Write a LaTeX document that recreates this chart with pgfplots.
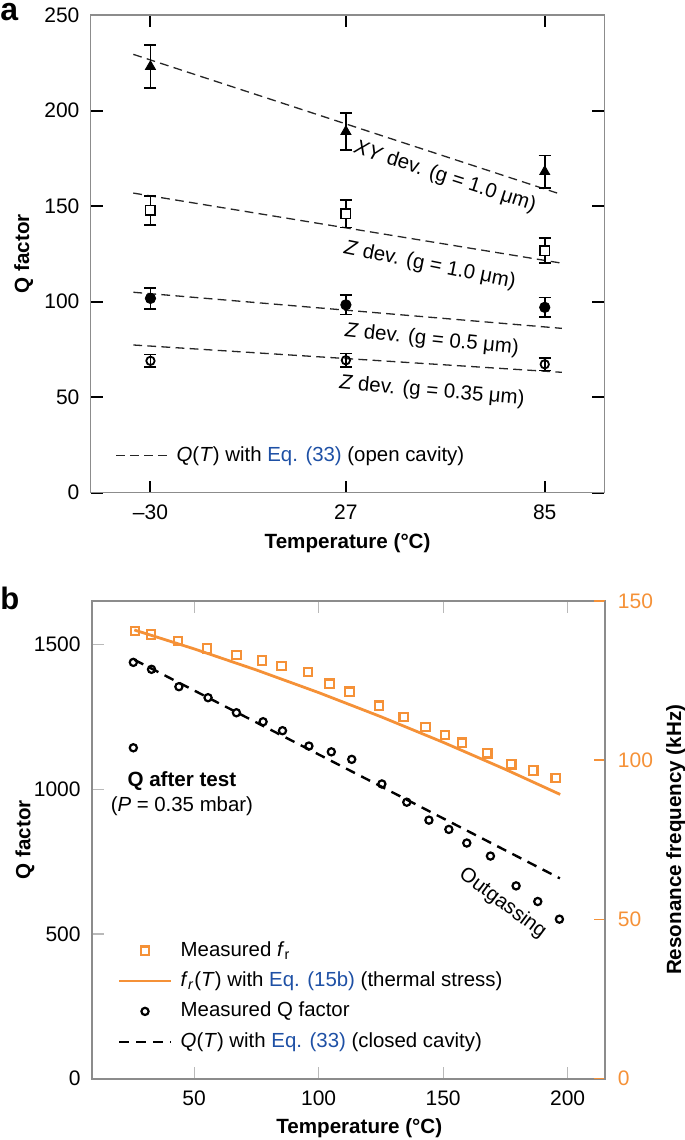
\documentclass[border=0pt]{standalone}
\usepackage{fontspec}
\setmainfont{Liberation Sans}
\usepackage{pgfplots}
\pgfplotsset{compat=1.18}
\definecolor{myorange}{RGB}{245,145,55}
\definecolor{eqblue}{RGB}{30,80,165}
\definecolor{framegray}{RGB}{140,140,140}
\definecolor{tickgray}{RGB}{185,185,185}
\begin{document}
\begin{tikzpicture}
\useasboundingbox (0,0) rectangle (342.5pt,570pt);
\pgfplotsset{
  legend image code/.code={\draw[mark repeat=2,mark phase=2,#1] plot coordinates {(0pt,0pt) (12.8pt,0pt) (25.6pt,0pt)};},
  /pgf/number format/1000 sep={},
}
\node[anchor=base west, font=\fontsize{16}{18}\selectfont\bfseries, inner sep=0pt] at (0pt,559.5pt) {a};
\node[anchor=base west, font=\fontsize{15.5}{18}\selectfont\bfseries, inner sep=0pt] at (0pt,265pt) {b};

% ---------------- panel a ----------------
\begin{axis}[
 at={(45.4pt,323.65pt)}, anchor=south west,
 scale only axis, width=256.8pt, height=238.85pt,
 xmin=-47.4, xmax=102.4, ymin=0, ymax=250,
 xtick={-30,27,85}, xticklabels={--30,27,85},
 ytick={0,50,100,150,200,250},
 tick align=inside, xtick pos=both, ytick pos=both,
 major tick length=6pt,
 every tick/.style={black, line width=1pt},
 axis line style={framegray, line width=0.6pt},
 tick label style={font=\fontsize{10.5}{12}\selectfont},
 /pgf/number format/assume math mode=true,
 xticklabel style={anchor=center, inner sep=0pt, yshift=-9.7pt},
 yticklabel style={anchor=east, inner sep=0pt, xshift=-5.5pt},
 xlabel={Temperature (°C)}, ylabel={Q factor},
 every axis x label/.style={at={(axis description cs:0.5,-0.1055)}, anchor=center, font=\fontsize{10.3}{12}\selectfont\bfseries},
 every axis y label/.style={at={(axis description cs:-0.1305,0.5)}, anchor=center, rotate=90, font=\fontsize{10.3}{12}\selectfont\bfseries},
 legend style={draw=none, fill=none, at={(axis description cs:0.0479,0.0775)}, anchor=west, inner sep=0pt, outer sep=0pt,
   nodes={inner sep=0pt, text height=7.5pt, text depth=2pt}, column sep=4.35pt, font=\fontsize{10.2}{12}\selectfont},
 legend cell align=left,
]
\addplot[black!85, line width=0.65pt, dash pattern=on 4.4pt off 2.65pt] coordinates {(-35,229.4) (90,156)};
\addlegendentry{\textit{Q}(\textit{T}) with \textcolor{eqblue}{Eq. (33)} (open cavity)}
\addplot[forget plot, black!85, line width=0.65pt, dash pattern=on 4.4pt off 2.65pt] coordinates {(-35,156.8) (90,120.1)};
\addplot[forget plot, black!85, line width=0.65pt, dash pattern=on 4.4pt off 2.65pt] coordinates {(-35,104.9) (90,86)};
\addplot[forget plot, black!85, line width=0.65pt, dash pattern=on 4.4pt off 2.65pt] coordinates {(-35,77.3) (90,63)};

\addplot[forget plot, only marks, black, mark=triangle*, mark size=2.9pt,
  error bars/.cd, y dir=both, y explicit, error bar style={line width=0.9pt},
  error mark options={rotate=90, mark size=3pt, line width=0.9pt, black}]
  coordinates {(-30,223) +- (0,11.3) (27,189) +- (0,9.5) (85,168) +- (0,8.5)};
\addplot[forget plot, only marks, black, mark=square*, mark size=2.4pt, mark options={fill=white, line width=0.8pt},
  error bars/.cd, y dir=both, y explicit, error bar style={line width=0.9pt},
  error mark options={rotate=90, mark size=3pt, line width=0.9pt, black}]
  coordinates {(-30,147.7) +- (0,7.5) (27,146) +- (0,7.2) (85,126.7) +- (0,6.5)};
\addplot[forget plot, only marks, black, mark=*, mark size=2.6pt,
  error bars/.cd, y dir=both, y explicit, error bar style={line width=0.9pt},
  error mark options={rotate=90, mark size=3pt, line width=0.9pt, black}]
  coordinates {(-30,101.7) +- (0,5.5) (27,98.3) +- (0,5) (85,97) +- (0,5.2)};
\addplot[forget plot, only marks, black, mark=o, mark size=2.1pt, mark options={line width=0.9pt},
  error bars/.cd, y dir=both, y explicit, error bar style={line width=0.9pt},
  error mark options={rotate=90, mark size=3pt, line width=0.9pt, black}]
  coordinates {(-30,69) +- (0,3.3) (27,69.3) +- (0,3.5) (85,67.2) +- (0,3.3)};

\node[rotate=-17.9, font=\fontsize{10.2}{12}\selectfont] at (axis cs:55.9,165.2) {\textit{XY} dev. (g = 1.0 μm)};
\node[rotate=-11.3, font=\fontsize{10.2}{12}\selectfont] at (axis cs:51.5,118.9) {\textit{Z} dev. (g = 1.0 μm)};
\node[rotate=-5.9, font=\fontsize{10.2}{12}\selectfont] at (axis cs:52.1,79.9) {\textit{Z} dev. (g = 0.5 μm)};
\node[rotate=-5.1, font=\fontsize{10.2}{12}\selectfont] at (axis cs:52.1,52.9) {\textit{Z} dev. (g = 0.35 μm)};
\end{axis}

% ---------------- panel b, left axis ----------------
\begin{axis}[
 at={(46pt,30.65pt)}, anchor=south west,
 scale only axis, width=256.5pt, height=238.85pt,
 xmin=9, xmax=215, ymin=0, ymax=1650,
 xtick={50,100,150,200}, ytick={0,500,1000,1500},
 tick align=inside, xtick pos=both, ytick pos=left,
 major tick length=6pt,
 every tick/.style={tickgray, line width=0.6pt},
 axis line style={framegray, line width=0.8pt},
 tick label style={font=\fontsize{10.5}{12}\selectfont},
 /pgf/number format/assume math mode=true,
 /pgf/number format/1000 sep={},
 xticklabel style={anchor=center, inner sep=0pt, yshift=-9.8pt},
 yticklabel style={anchor=east, inner sep=0pt, xshift=-5.5pt},
 xlabel={Temperature (°C)}, ylabel={Q factor},
 every axis x label/.style={at={(axis description cs:0.521,-0.1032)}, anchor=center, font=\fontsize{10.3}{12}\selectfont\bfseries},
 every axis y label/.style={at={(axis description cs:-0.1305,0.5)}, anchor=center, rotate=90, font=\fontsize{10.3}{12}\selectfont\bfseries},
]
\addplot[black, line width=1.2pt, dash pattern=on 5pt off 3.5pt] coordinates {(26,1447) (196.9,692)};
\addplot[only marks, black, mark=o, mark size=1.8pt, mark options={line width=1.1pt}] coordinates {
(25.6,1438) (32.9,1414) (43.9,1354) (55.6,1316) (67.0,1264) (77.7,1233) (85.5,1202) (96.1,1149)
(105.1,1129) (113.3,1103) (125.4,1018) (135.4,955) (144.3,893) (152.3,861) (159.5,814) (169.0,769)
(179.3,666) (188.0,612) (196.7,551)};
\addplot[only marks, black, mark=o, mark size=1.8pt, mark options={line width=1.1pt}] coordinates {(25.6,1143)};
\node[font=\fontsize{10.3}{12}\selectfont\bfseries] at (axis cs:45.1,1028.7) {Q after test};
\node[font=\fontsize{10.2}{12}\selectfont] at (axis cs:45.1,941) {(\textit{P} = 0.35 mbar)};
\node[rotate=-36.9, font=\fontsize{10.2}{12}\selectfont] at (axis cs:173.9,605.8) {Outgassing};
\end{axis}

% ---------------- panel b, right axis ----------------
\begin{axis}[
 at={(46pt,30.65pt)}, anchor=south west,
 scale only axis, width=256.5pt, height=238.85pt,
 xmin=9, xmax=215, ymin=0, ymax=150,
 axis x line=none, axis y line*=right,
 ytick={0,50,100,150},
 tick align=inside,
 major tick length=5.5pt,
 every tick/.style={myorange, line width=0.8pt},
 axis line style={framegray, line width=0.8pt, -},
 tick label style={font=\fontsize{10.5}{12}\selectfont},
 /pgf/number format/assume math mode=true,
 yticklabel style={myorange, anchor=west, inner sep=0pt, xshift=6.25pt},
 ylabel={Resonance frequency (kHz)},
 every axis y label/.style={at={(axis description cs:1.138,0.5)}, anchor=center, rotate=90, font=\fontsize{10.3}{12}\selectfont\bfseries},
 legend style={draw=none, fill=none, at={(axis description cs:0.0507,0.2878)}, anchor=north west, inner sep=0pt, outer sep=0pt,
   nodes={inner sep=0pt, text height=7.5pt, text depth=2pt}, column sep=4.35pt, row sep=5.67pt, font=\fontsize{10.2}{12}\selectfont},
 legend cell align=left,
]
\addplot[only marks, myorange, mark=square, mark size=2.1pt, mark options={line width=1.1pt}] coordinates {
(26.2,140.6) (32.7,139.5) (43.6,137.4) (55.2,135.1) (67.0,133.0) (77.2,131.3) (85.1,129.6) (95.7,127.7)
(104.4,124.0) (112.4,121.5) (124.2,117.1) (134.2,113.6) (142.9,110.4) (150.8,107.9) (157.6,105.5)
(167.7,102.2) (177.4,98.7) (186.2,96.8) (195.2,94.4)};
\addlegendentry{Measured \textit{f}\textsubscript{r}}
\addplot[myorange, line width=1.4pt] coordinates {
(26,140.9) (50,134.97) (75,128.34) (100,121.24) (125,113.67) (150,105.63) (175,97.13) (197,89.26)};
\addlegendentry{\textit{f}\textsubscript{\textit{r}}(\textit{T}) with \textcolor{eqblue}{Eq. (15b)} (thermal stress)}
\addlegendimage{only marks, black, mark=o, mark size=1.8pt, mark options={line width=1.1pt}}
\addlegendentry{Measured Q factor}
\addlegendimage{black, line width=1.2pt, dash pattern=on 5pt off 3.5pt}
\addlegendentry{\textit{Q}(\textit{T}) with \textcolor{eqblue}{Eq. (33)} (closed cavity)}
\end{axis}
\end{tikzpicture}
\end{document}
